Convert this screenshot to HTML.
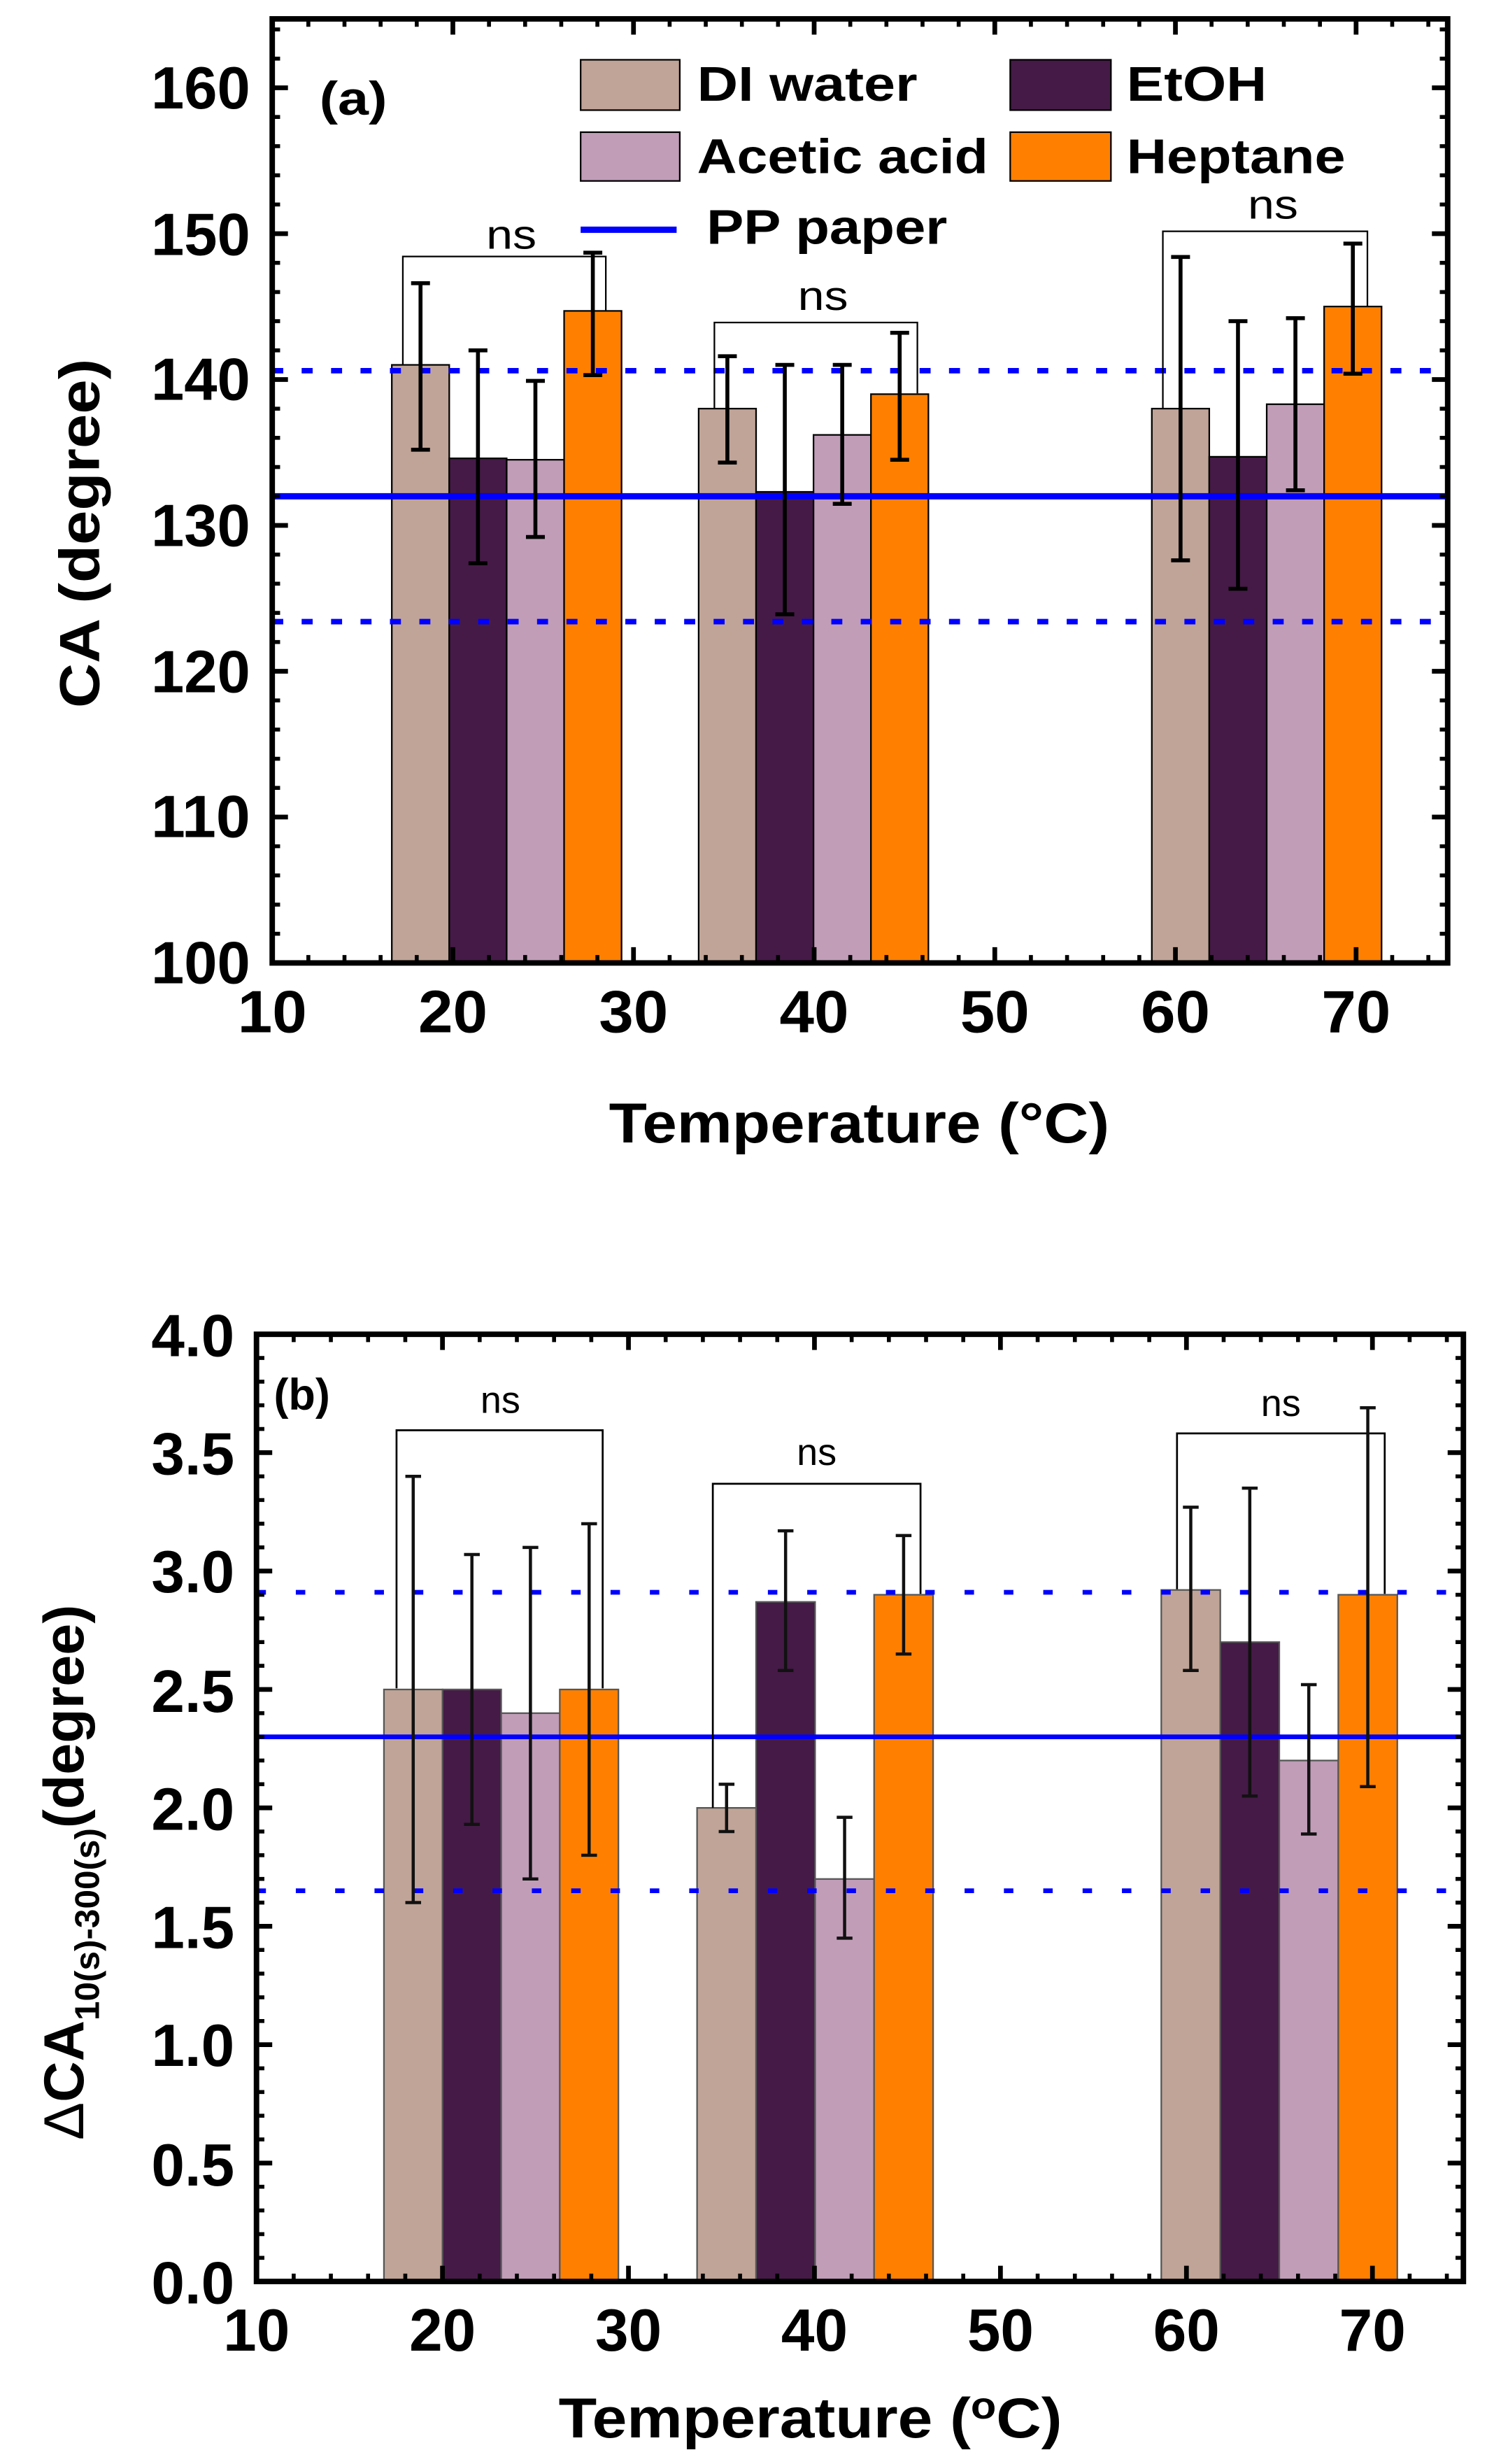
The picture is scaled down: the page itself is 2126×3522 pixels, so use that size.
<!DOCTYPE html>
<html><head><meta charset="utf-8"><style>html,body{margin:0;padding:0;background:#fff}svg{display:block}</style></head><body>
<svg xmlns="http://www.w3.org/2000/svg" width="2126" height="3522" viewBox="0 0 945 1566" preserveAspectRatio="none">
<rect width="945" height="1566" fill="#fff"/>
<g>
<g stroke="#000" stroke-width="1">
<rect x="249" y="231.9" width="36.5" height="380.1" fill="#c0a497"/>
<rect x="285.5" y="291.3" width="36.5" height="320.7" fill="#451a47"/>
<rect x="322" y="292.2" width="36.5" height="319.8" fill="#c19db8"/>
<rect x="358.5" y="197.6" width="36.5" height="414.4" fill="#ff8000"/>
<rect x="444" y="259.7" width="36.5" height="352.3" fill="#c0a497"/>
<rect x="480.5" y="312.6" width="36.5" height="299.4" fill="#451a47"/>
<rect x="517" y="276.4" width="36.5" height="335.6" fill="#c19db8"/>
<rect x="553.5" y="250.5" width="36.5" height="361.5" fill="#ff8000"/>
<rect x="732" y="259.7" width="36.5" height="352.3" fill="#c0a497"/>
<rect x="768.5" y="290.3" width="36.5" height="321.7" fill="#451a47"/>
<rect x="805" y="256.9" width="36.5" height="355.1" fill="#c19db8"/>
<rect x="841.5" y="194.8" width="36.5" height="417.2" fill="#ff8000"/>
</g>
<line x1="173" y1="315.4" x2="920" y2="315.4" stroke="#0000ff" stroke-width="4"/>
<line x1="173" y1="235.6" x2="920" y2="235.6" stroke="#0000ff" stroke-width="3.5" stroke-dasharray="7 11.7"/>
<line x1="173" y1="395.1" x2="920" y2="395.1" stroke="#0000ff" stroke-width="3.5" stroke-dasharray="7 11.7"/>
<g fill="none" stroke="#000" stroke-width="1">
<path d="M256,232 V163 H385 V198"/>
<path d="M454,260 V205 H583 V250"/>
<path d="M739,260 V147 H869 V195"/>
</g>
<g font-family="Liberation Sans Narrow, Liberation Sans, sans-serif" font-size="26" text-anchor="middle" fill="#000">
<text x="325" y="158" textLength="32" lengthAdjust="spacingAndGlyphs">ns</text>
<text x="523" y="197" textLength="32" lengthAdjust="spacingAndGlyphs">ns</text>
<text x="809" y="139" textLength="32" lengthAdjust="spacingAndGlyphs">ns</text>
</g>
<g stroke="#000" stroke-width="2.5" fill="none">
<path d="M267.25,180 V285.8 M261.25,180 H273.25 M261.25,285.8 H273.25"/>
<path d="M303.75,222.7 V358 M297.75,222.7 H309.75 M297.75,358 H309.75"/>
<path d="M340.25,242.1 V341.3 M334.25,242.1 H346.25 M334.25,341.3 H346.25"/>
<path d="M376.75,160.6 V238.4 M370.75,160.6 H382.75 M370.75,238.4 H382.75"/>
<path d="M462.25,226.4 V294 M456.25,226.4 H468.25 M456.25,294 H468.25"/>
<path d="M498.75,231.9 V390.4 M492.75,231.9 H504.75 M492.75,390.4 H504.75"/>
<path d="M535.25,231.9 V320.2 M529.25,231.9 H541.25 M529.25,320.2 H541.25"/>
<path d="M571.75,211.5 V292.2 M565.75,211.5 H577.75 M565.75,292.2 H577.75"/>
<path d="M750.25,163.3 V356.1 M744.25,163.3 H756.25 M744.25,356.1 H756.25"/>
<path d="M786.75,204.1 V374.2 M780.75,204.1 H792.75 M780.75,374.2 H792.75"/>
<path d="M823.25,202.2 V311.6 M817.25,202.2 H829.25 M817.25,311.6 H829.25"/>
<path d="M859.75,154.8 V237.5 M853.75,154.8 H865.75 M853.75,237.5 H865.75"/>
</g>
<g stroke="#000" fill="none">
<line x1="175.5" y1="612" x2="175.5" y2="12" stroke-width="5" stroke-dasharray="2.5 16.04" stroke-dashoffset="1.25"/>
<line x1="178" y1="612" x2="178" y2="12" stroke-width="10" stroke-dasharray="3 89.7" stroke-dashoffset="1.5"/>
<line x1="917.5" y1="612" x2="917.5" y2="12" stroke-width="5" stroke-dasharray="2.5 16.04" stroke-dashoffset="1.25"/>
<line x1="915" y1="612" x2="915" y2="12" stroke-width="10" stroke-dasharray="3 89.7" stroke-dashoffset="1.5"/>
<line x1="173" y1="609.5" x2="920" y2="609.5" stroke-width="5" stroke-dasharray="2.5 20.46" stroke-dashoffset="1.25"/>
<line x1="173" y1="607" x2="920" y2="607" stroke-width="10" stroke-dasharray="3 111.8" stroke-dashoffset="1.5"/>
<line x1="173" y1="14.5" x2="920" y2="14.5" stroke-width="5" stroke-dasharray="2.5 20.46" stroke-dashoffset="1.25"/>
<line x1="173" y1="17" x2="920" y2="17" stroke-width="10" stroke-dasharray="3 111.8" stroke-dashoffset="1.5"/>
<rect x="173" y="12" width="747" height="600" stroke-width="3.5"/>
</g>
<g stroke="#000" stroke-width="1">
<rect x="369" y="38" width="63" height="32" fill="#c0a497"/>
<rect x="642" y="38" width="64" height="32" fill="#451a47"/>
<rect x="369" y="84" width="63" height="31" fill="#c19db8"/>
<rect x="642" y="84" width="64" height="31" fill="#ff8000"/>
</g>
<line x1="369" y1="146" x2="430" y2="146" stroke="#0000ff" stroke-width="4"/>
<g font-family="Liberation Sans, sans-serif" font-weight="bold" font-size="31" fill="#000">
<text x="443" y="64" textLength="140" lengthAdjust="spacingAndGlyphs">DI water</text>
<text x="716" y="64" textLength="89" lengthAdjust="spacingAndGlyphs">EtOH</text>
<text x="443" y="110" textLength="185" lengthAdjust="spacingAndGlyphs">Acetic acid</text>
<text x="716" y="110" textLength="139" lengthAdjust="spacingAndGlyphs">Heptane</text>
<text x="449" y="155" textLength="153" lengthAdjust="spacingAndGlyphs">PP paper</text>
<text x="203" y="73" font-size="30" textLength="43" lengthAdjust="spacingAndGlyphs">(a)</text>
</g>
<g font-family="Liberation Sans Narrow, Liberation Sans, sans-serif" font-weight="bold" font-size="38" fill="#000" text-anchor="end">
<text x="159" y="625" textLength="63" lengthAdjust="spacingAndGlyphs">100</text>
<text x="159" y="532" textLength="63" lengthAdjust="spacingAndGlyphs">110</text>
<text x="159" y="440" textLength="63" lengthAdjust="spacingAndGlyphs">120</text>
<text x="159" y="347" textLength="63" lengthAdjust="spacingAndGlyphs">130</text>
<text x="159" y="254" textLength="63" lengthAdjust="spacingAndGlyphs">140</text>
<text x="159" y="162" textLength="63" lengthAdjust="spacingAndGlyphs">150</text>
<text x="159" y="69" textLength="63" lengthAdjust="spacingAndGlyphs">160</text>
</g>
<g font-family="Liberation Sans Narrow, Liberation Sans, sans-serif" font-weight="bold" font-size="38" fill="#000" text-anchor="middle">
<text x="173" y="656" textLength="44" lengthAdjust="spacingAndGlyphs">10</text>
<text x="287.8" y="656" textLength="44" lengthAdjust="spacingAndGlyphs">20</text>
<text x="402.6" y="656" textLength="44" lengthAdjust="spacingAndGlyphs">30</text>
<text x="517.4" y="656" textLength="44" lengthAdjust="spacingAndGlyphs">40</text>
<text x="632.2" y="656" textLength="44" lengthAdjust="spacingAndGlyphs">50</text>
<text x="747" y="656" textLength="44" lengthAdjust="spacingAndGlyphs">60</text>
<text x="861.8" y="656" textLength="44" lengthAdjust="spacingAndGlyphs">70</text>
</g>
<text x="546" y="726" font-family="Liberation Sans, sans-serif" font-weight="bold" font-size="36" text-anchor="middle" textLength="318" lengthAdjust="spacingAndGlyphs">Temperature (°C)</text>
<text transform="translate(63,339) rotate(-90)" font-family="Liberation Sans, sans-serif" font-weight="bold" font-size="36" text-anchor="middle" textLength="222" lengthAdjust="spacingAndGlyphs">CA (degree)</text>
</g>

<g>
<g stroke="#555" stroke-width="1">
<rect x="244" y="1073.75" width="37.25" height="376.25" fill="#c0a497"/>
<rect x="281.25" y="1073.75" width="37.25" height="376.25" fill="#451a47"/>
<rect x="318.5" y="1088.8" width="37.25" height="361.2" fill="#c19db8"/>
<rect x="355.75" y="1073.75" width="37.25" height="376.25" fill="#ff8000"/>
<rect x="443" y="1149" width="37.5" height="301" fill="#c0a497"/>
<rect x="480.5" y="1018.1" width="37.5" height="431.9" fill="#451a47"/>
<rect x="518" y="1194.2" width="37.5" height="255.8" fill="#c19db8"/>
<rect x="555.5" y="1013.55" width="37.5" height="436.45" fill="#ff8000"/>
<rect x="738" y="1010.5" width="37.5" height="439.5" fill="#c0a497"/>
<rect x="775.5" y="1043.65" width="37.5" height="406.35" fill="#451a47"/>
<rect x="813" y="1118.9" width="37.5" height="331.1" fill="#c19db8"/>
<rect x="850.5" y="1013.55" width="37.5" height="436.45" fill="#ff8000"/>
</g>
<line x1="163" y1="1103.85" x2="930" y2="1103.85" stroke="#0000ff" stroke-width="3"/>
<line x1="163" y1="1012" x2="930" y2="1012" stroke="#0000ff" stroke-width="3" stroke-dasharray="6 19"/>
<line x1="163" y1="1201.7" x2="930" y2="1201.7" stroke="#0000ff" stroke-width="3" stroke-dasharray="6 19"/>
<g fill="none" stroke="#000" stroke-width="1.2">
<path d="M252,1073 V909 H383 V1073"/>
<path d="M453,1149 V943 H585 V1013"/>
<path d="M748,1010 V911 H880 V1013"/>
</g>
<g font-family="Liberation Sans, sans-serif" font-size="24" text-anchor="middle" fill="#000">
<text x="318" y="898">ns</text>
<text x="519" y="931">ns</text>
<text x="814" y="900">ns</text>
</g>
<g stroke="#111" stroke-width="2" fill="none">
<path d="M262.6,938.3 V1209.2 M257.6,938.3 H267.6 M257.6,1209.2 H267.6"/>
<path d="M299.9,988 V1159.5 M294.9,988 H304.9 M294.9,1159.5 H304.9"/>
<path d="M337.1,983.45 V1194.2 M332.1,983.45 H342.1 M332.1,1194.2 H342.1"/>
<path d="M374.4,968.4 V1179.1 M369.4,968.4 H379.4 M369.4,1179.1 H379.4"/>
<path d="M461.75,1134 V1164.05 M456.75,1134 H466.75 M456.75,1164.05 H466.75"/>
<path d="M499.25,972.9 V1061.7 M494.25,972.9 H504.25 M494.25,1061.7 H504.25"/>
<path d="M536.75,1155 V1231.8 M531.75,1155 H541.75 M531.75,1231.8 H541.75"/>
<path d="M574.25,975.9 V1051.2 M569.25,975.9 H579.25 M569.25,1051.2 H579.25"/>
<path d="M756.75,957.9 V1061.7 M751.75,957.9 H761.75 M751.75,1061.7 H761.75"/>
<path d="M794.25,945.8 V1141.5 M789.25,945.8 H799.25 M789.25,1141.5 H799.25"/>
<path d="M831.75,1070.7 V1165.6 M826.75,1070.7 H836.75 M826.75,1165.6 H836.75"/>
<path d="M869.25,894.7 V1135.5 M864.25,894.7 H874.25 M864.25,1135.5 H874.25"/>
</g>
<g stroke="#000" fill="none">
<line x1="165.5" y1="1450" x2="165.5" y2="848" stroke-width="5" stroke-dasharray="2.5 12.55" stroke-dashoffset="1.25"/>
<line x1="168" y1="1450" x2="168" y2="848" stroke-width="10" stroke-dasharray="3 72.25" stroke-dashoffset="1.5"/>
<line x1="927.5" y1="1450" x2="927.5" y2="848" stroke-width="5" stroke-dasharray="2.5 12.55" stroke-dashoffset="1.25"/>
<line x1="925" y1="1450" x2="925" y2="848" stroke-width="10" stroke-dasharray="3 72.25" stroke-dashoffset="1.5"/>
<line x1="163" y1="1447.5" x2="930" y2="1447.5" stroke-width="5" stroke-dasharray="2.5 21.14" stroke-dashoffset="1.25"/>
<line x1="163" y1="1445" x2="930" y2="1445" stroke-width="10" stroke-dasharray="3 115.2" stroke-dashoffset="1.5"/>
<line x1="163" y1="850.5" x2="930" y2="850.5" stroke-width="5" stroke-dasharray="2.5 21.14" stroke-dashoffset="1.25"/>
<line x1="163" y1="853" x2="930" y2="853" stroke-width="10" stroke-dasharray="3 115.2" stroke-dashoffset="1.5"/>
<rect x="163" y="848" width="767" height="602" stroke-width="3.5"/>
</g>
<text x="174" y="896" font-family="Liberation Sans, sans-serif" font-weight="bold" font-size="28">(b)</text>
<g font-family="Liberation Sans, sans-serif" font-weight="bold" font-size="38" fill="#000" text-anchor="end">
<text x="149" y="1464">0.0</text>
<text x="149" y="1389">0.5</text>
<text x="149" y="1313">1.0</text>
<text x="149" y="1238">1.5</text>
<text x="149" y="1163">2.0</text>
<text x="149" y="1088">2.5</text>
<text x="149" y="1012">3.0</text>
<text x="149" y="937">3.5</text>
<text x="149" y="862">4.0</text>
</g>
<g font-family="Liberation Sans, sans-serif" font-weight="bold" font-size="38" fill="#000" text-anchor="middle">
<text x="163" y="1494">10</text>
<text x="281.2" y="1494">20</text>
<text x="399.4" y="1494">30</text>
<text x="517.6" y="1494">40</text>
<text x="635.8" y="1494">50</text>
<text x="754" y="1494">60</text>
<text x="872.2" y="1494">70</text>
</g>
<text x="515" y="1549" font-family="Liberation Sans, sans-serif" font-weight="bold" font-size="36" text-anchor="middle" textLength="320" lengthAdjust="spacingAndGlyphs">Temperature (<tspan font-size="24" dy="-12">o</tspan><tspan dy="12">C)</tspan></text>
<text transform="translate(53,1190) rotate(-90)" font-family="Liberation Sans, sans-serif" font-weight="bold" font-size="36" text-anchor="middle"><tspan font-weight="normal">Δ</tspan>CA<tspan font-size="22" dy="10">10(s)-300(s)</tspan><tspan dy="-10">(degree)</tspan></text>
</g>
</svg>
</body></html>
